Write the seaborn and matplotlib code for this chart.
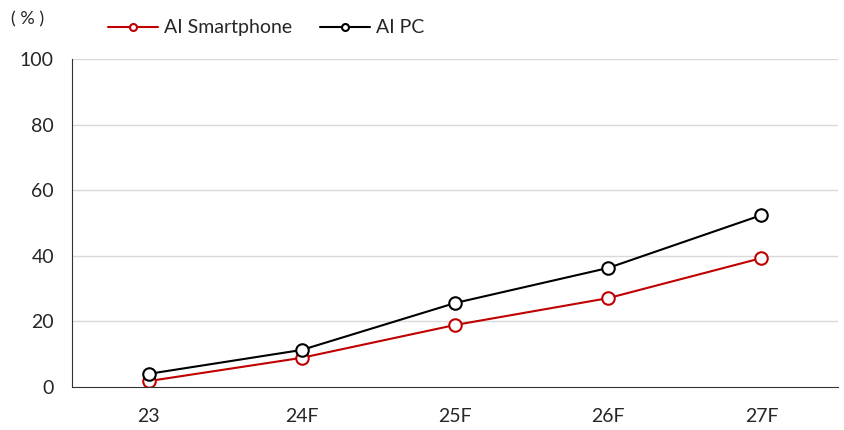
import numpy as np
import pandas as pd
import matplotlib.pyplot as plt
import seaborn as sns
from matplotlib.lines import Line2D

years = ["23", "24F", "25F", "26F", "27F"]
ai_smartphone = [1.8, 8.9, 18.9, 27.1, 39.3]
ai_pc = [4.0, 11.3, 25.6, 36.3, 52.4]

sns.set_style("white")
plt.rcParams['font.family'] = ['Lato', 'DejaVu Sans']

df = pd.DataFrame({"year": years * 2,
                   "value": ai_smartphone + ai_pc,
                   "series": ["AI Smartphone"] * 5 + ["AI PC"] * 5})
df["pos"] = list(range(5)) * 2

fig = plt.figure(figsize=(8.44, 4.30), dpi=100)
ax = fig.add_axes([0.0853, 0.1, 0.9077, 0.7628])

colors = {"AI Smartphone": "#C00000", "AI PC": "#000000"}
sns.lineplot(data=df, x="pos", y="value", hue="series", palette=colors,
             marker="o", markersize=9, markerfacecolor="white", markeredgewidth=1.5,
             linewidth=1.5, ax=ax, legend=False)
for line, c in zip(ax.lines, ["#C00000", "#000000"]):
    line.set_markeredgecolor(c)

ax.set_xlim(-0.5, 4.5)
ax.set_ylim(0, 100)
ax.set_yticks(range(0, 101, 20))
ax.set_xticks(range(5))
ax.set_xticklabels(years)
ax.set_xticks(np.arange(-0.5, 4.6, 1), minor=True)
ax.tick_params(axis="x", which="major", length=0, pad=15, labelsize=14)
ax.tick_params(axis="x", which="minor", length=5, width=1, color="#333333", direction="out")
ax.tick_params(axis="y", length=5, width=1, color="#333333", direction="out", labelsize=14, pad=8)
ax.set_xlabel("")
ax.set_ylabel("")
for y in range(20, 101, 20):
    ax.axhline(y, color="#D9D9D9", linewidth=1, zorder=0)
for s in ["top", "right"]:
    ax.spines[s].set_visible(False)
ax.spines["left"].set_color("#333333")
ax.spines["bottom"].set_color("#333333")

fig.text(0.013, 0.955, "( % )", fontsize=13, va="center")
handles = [Line2D([], [], color=colors[k], marker="o", markersize=5,
                  markerfacecolor="white", markeredgewidth=1.5, linewidth=1.5)
           for k in ["AI Smartphone", "AI PC"]]
fig.legend(handles, ["AI Smartphone", "AI PC"], loc="center left",
           bbox_to_anchor=(0.107, 0.935), ncol=2, frameon=False, fontsize=14,
           handlelength=2.6, columnspacing=1.4, handletextpad=0.3)

plt.savefig("out.png", dpi=100)
